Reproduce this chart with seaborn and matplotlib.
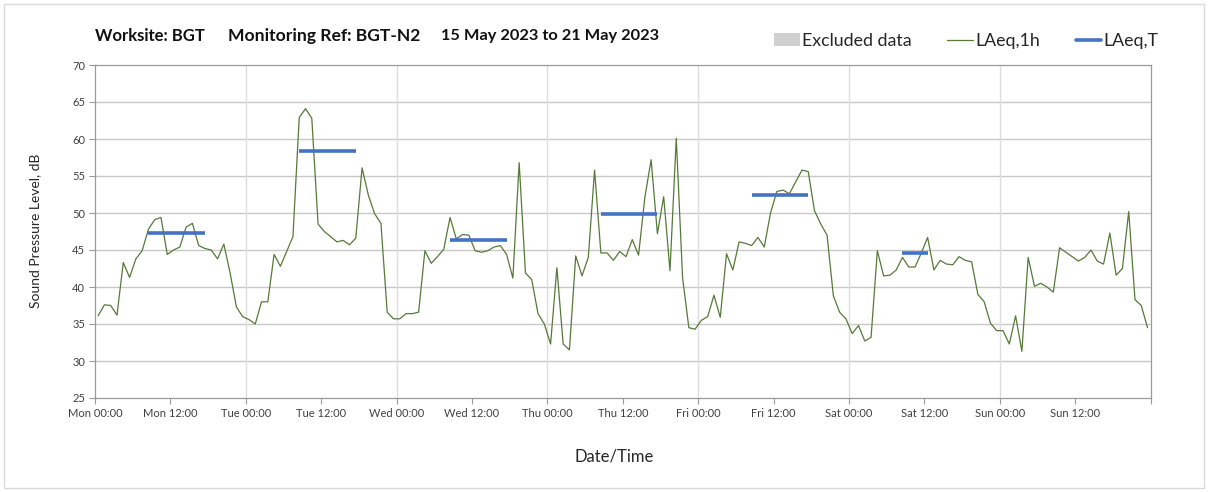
import matplotlib
matplotlib.use("Agg")
import matplotlib.pyplot as plt
from matplotlib.patches import Patch, Rectangle
from matplotlib.lines import Line2D
import numpy as np
import pandas as pd
import seaborn as sns

# ---------------- data ----------------
title_parts = ["Worksite: BGT", "Monitoring Ref: BGT-N2", "15 May 2023 to 21 May 2023"]

# hourly LAeq,1h values (hour-centred, Mon 00:00 .. Sun 23:00)
laeq_mon = [36.1, 37.6, 37.5, 36.2, 43.3, 41.3, 43.8, 44.9, 47.8, 49.1, 49.4, 44.4,
            45.0, 45.4, 48.1, 48.6, 45.6, 45.2, 45.0, 43.8, 45.8, 41.9, 37.3, 36.0]
laeq_tue = [35.6, 35.0, 38.0, 38.0, 44.4, 42.8, 44.8, 46.8, 62.9, 64.1, 62.8, 48.5,
            47.5, 46.8, 46.1, 46.3, 45.7, 46.6, 56.1, 52.4, 49.9, 48.6, 36.6, 35.7]
laeq_wed = [35.7, 36.4, 36.4, 36.6, 44.9, 43.2, 44.1, 45.1, 49.4, 46.5, 47.1, 47.0,
            44.9, 44.7, 44.9, 45.4, 45.6, 44.4, 41.2, 56.8, 41.9, 41.0, 36.4, 35.0]
laeq_thu = [32.3, 42.6, 32.3, 31.5, 44.2, 41.5, 44.0, 55.8, 44.6, 44.6, 43.6, 44.8,
            44.1, 46.4, 44.3, 52.1, 57.2, 47.2, 52.2, 42.2, 60.1, 41.3, 34.5, 34.3]
laeq_fri = [35.5, 36.0, 38.9, 35.9, 44.5, 42.3, 46.1, 45.9, 45.6, 46.7, 45.4, 50.0,
            52.9, 53.1, 52.6, 54.2, 55.8, 55.6, 50.3, 48.5, 47.0, 38.8, 36.6, 35.7]
laeq_sat = [33.7, 34.8, 32.7, 33.2, 44.9, 41.5, 41.6, 42.3, 44.0, 42.7, 42.7, 44.6,
            46.7, 42.3, 43.6, 43.1, 43.0, 44.1, 43.6, 43.4, 39.0, 38.0, 35.1, 34.1]
laeq_sun = [34.1, 32.3, 36.1, 31.3, 44.0, 40.1, 40.5, 40.0, 39.3, 45.3, 44.7, 44.1,
            43.5, 44.0, 45.0, 43.5, 43.1, 47.3, 41.6, 42.5, 50.2, 38.3, 37.5, 34.5]

# LAeq,T periods (hours from Mon 00:00, hour-centred)
period_names = ["Mon", "Tue", "Wed", "Thu", "Fri", "Sat"]
period_start = [8.5, 32.5, 56.5, 80.5, 104.5, 128.5]
period_end = [17.5, 41.5, 65.5, 89.5, 113.5, 132.5]
period_value = [47.3, 58.4, 46.3, 49.9, 52.5, 44.6]

tick_labels = ["Mon 00:00", "Mon 12:00", "Tue 00:00", "Tue 12:00", "Wed 00:00",
               "Wed 12:00", "Thu 00:00", "Thu 12:00", "Fri 00:00", "Fri 12:00",
               "Sat 00:00", "Sat 12:00", "Sun 00:00", "Sun 12:00", ""]

legend_labels = ["Excluded data", "LAeq,1h", "LAeq,T"]

# ---------------- frames ----------------
laeq_all = laeq_mon + laeq_tue + laeq_wed + laeq_thu + laeq_fri + laeq_sat + laeq_sun
df_h = pd.DataFrame({"hour": np.arange(len(laeq_all)) + 0.5, "level": laeq_all})
df_t = pd.DataFrame({
    "period": period_names * 2,
    "hour": period_start + period_end,
    "level": period_value * 2,
})

# ---------------- style ----------------
sns.set_theme(style="white")
plt.rcParams["font.family"] = ["Lato", "DejaVu Sans"]

GREEN = "#557A38"
BLUE = "#4472C4"
GRID_H = "#C8C8C8"
GRID_V = "#DDDDDD"
AX_COL = "#9A9A9A"
TXT = "#404040"

fig = plt.figure(figsize=(12.08, 4.92), dpi=100)
ax = fig.add_axes([95 / 1208, 1 - 398 / 492, (1150.7 - 95) / 1208, (398 - 65) / 492])

ax.set_ylim(25, 70)
ax.set_xlim(0, 168)
ax.set_yticks(np.arange(25, 71, 5))
ax.set_xticks(np.arange(0, 169, 12))
for yv in np.arange(30, 70, 5):
    ax.axhline(yv, color=GRID_H, lw=1.0, zorder=0)
for xv in np.arange(24, 168, 24):
    ax.axvline(xv, color=GRID_V, lw=1.0, zorder=0)

sns.lineplot(data=df_h, x="hour", y="level", ax=ax, color=GREEN, lw=0.9,
             estimator=None, legend=False, zorder=3)
sns.lineplot(data=df_t, x="hour", y="level", units="period", ax=ax, color=BLUE,
             lw=2.6, estimator=None, legend=False, zorder=4,
             solid_capstyle="butt")

ax.set_xticklabels(tick_labels, fontsize=8, color=TXT)
ax.set_yticklabels([str(v) for v in range(25, 71, 5)], fontsize=8, color=TXT)
ax.tick_params(axis="both", which="major", direction="out", length=4, width=0.8,
               color=AX_COL, pad=3, left=True, bottom=True)
for s in ax.spines.values():
    s.set_color(AX_COL)
    s.set_linewidth(0.9)
ax.set_xlabel("")
ax.set_ylabel("")

fig.text(35 / 1208, 1 - 231 / 492, "Sound Pressure Level, dB", rotation=90,
         ha="center", va="center", fontsize=10, color="#262626")
fig.text(614 / 1208, 1 - 456 / 492, "Date/Time", ha="center", va="center",
         fontsize=12, color="#262626")

title_x = [95, 228, 441]
title_size = [12, 12.6, 11.8]
for txt, xp, fs in zip(title_parts, title_x, title_size):
    fig.text(xp / 1208, 1 - 36 / 492, txt, ha="left", va="center",
             fontsize=fs, fontweight="bold", color="#111111")

handles = [Patch(facecolor="#D0D0D0", edgecolor="none"),
           Line2D([0], [0], color=GREEN, lw=0.9),
           Line2D([0], [0], color=BLUE, lw=2.6)]
fig.legend(handles, legend_labels, ncol=3, loc="center",
           bbox_to_anchor=(966.5 / 1208, 1 - 41 / 492), frameon=False,
           fontsize=12.8, handlelength=1.45, handletextpad=0.12,
           columnspacing=2.0, labelcolor="#262626", handleheight=0.75)

fig.patches.append(Rectangle((4 / 1208, 4 / 492), 1200 / 1208, 484 / 492,
                             transform=fig.transFigure, fill=False,
                             edgecolor="#D9D9D9", lw=1.0))

fig.savefig("out.png", dpi=100)
